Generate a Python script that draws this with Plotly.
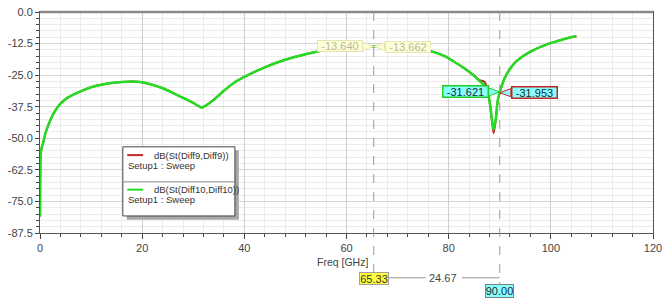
import plotly.graph_objects as go

# ---------------- data ----------------
freq_ghz = [0, 0.02, 0.05, 0.1, 0.3, 0.6, 1.0, 1.5, 2.2, 3.0, 4.0, 5.5, 7.5, 10, 12, 14, 16, 18, 20,
            22, 24, 26, 28, 30, 31, 31.7, 32.5, 34, 36, 38, 40, 42, 44, 46, 48, 50, 52, 54, 56, 58,
            60, 62, 64, 65.33, 67, 69, 71, 73, 75, 77, 79, 81, 83, 85, 86, 87, 87.6, 88.1, 88.5,
            88.8, 89.2, 89.6, 90, 90.5, 91, 92, 93, 94, 95, 96, 97, 98, 99, 100, 101, 102, 103,
            104, 105]

s_diff10 = [-81, -72, -64, -58, -54, -52, -48.5, -45.5, -42, -39, -36.3, -33.8, -31.8, -29.8, -28.8,
            -28.1, -27.7, -27.5, -27.8, -28.8, -30.2, -32, -34, -36, -37.2, -37.8, -37, -34.8,
            -31.2, -28, -25.7, -23.7, -21.9, -20.3, -18.9, -17.7, -16.7, -15.8, -15, -14.4, -14,
            -13.75, -13.65, -13.640, -13.7, -13.9, -14.2, -14.6, -15, -15.8, -17.3, -19.6, -22.2,
            -25.3, -27.3, -29.0, -31, -36.5, -43, -46.5, -42.7, -35, -31.621, -28.5, -26, -22.5,
            -20, -18.3, -16.9, -15.7, -14.7, -13.8, -13, -12.3, -11.7, -11.1, -10.5, -10, -9.6]

s_diff9 = [-81, -72, -64, -58, -54, -52, -48.5, -45.5, -42, -39, -36.3, -33.8, -31.8, -29.8, -28.8,
           -28.1, -27.7, -27.5, -27.8, -28.8, -30.2, -32, -34, -36, -37.2, -37.8, -37, -34.8,
           -31.2, -28, -25.7, -23.7, -21.9, -20.3, -18.9, -17.7, -16.7, -15.8, -15, -14.4, -14,
           -13.75, -13.66, -13.662, -13.7, -13.9, -14.2, -14.6, -15, -15.8, -17.3, -19.6, -22.2,
           -25.2, -27.0, -27.6, -30.5, -36.8, -43.5, -48, -43, -35.3, -31.953, -28.7, -26.1, -22.6,
           -20, -18.3, -16.9, -15.7, -14.7, -13.8, -13, -12.3, -11.7, -11.1, -10.5, -10, -9.6]

marker_freqs = [65.33, 90.00]
marker_diff10 = [-13.640, -31.621]
marker_diff9 = [-13.662, -31.953]
marker_labels = ["65.33", "90.00"]
delta_label = "24.67"

x_tick_vals = [0, 20, 40, 60, 80, 100, 120]
y_tick_labels = ["0.0", "-12.5", "-25.0", "-37.5", "-50.0", "-62.5", "-75.0", "-87.5"]
y_tick_vals = [float(t) for t in y_tick_labels]

trace_names = ["dB(St(Diff9,Diff9))", "dB(St(Diff10,Diff10))"]
setup_name = "Setup1 : Sweep"

RED = "#c0282a"
GREEN = "#22dd22"
FONT = "Liberation Sans, Arial, sans-serif"

# ---------------- geometry helpers (layout only) ----------------
W, H = 668, 301
ML, MR, MT, MB = 40, 10, 6, 68
PW, PH = W - ML - MR, H - MT - MB


def px(xp):
    return (xp - ML) / PW


def py(yp):
    return (H - MB - yp) / PH


fig = go.Figure()
fig.add_trace(go.Scatter(x=freq_ghz, y=s_diff9, mode="lines", name=trace_names[0],
                         line=dict(color=RED, width=2, shape="spline", smoothing=0.8)))
fig.add_trace(go.Scatter(x=freq_ghz, y=s_diff10, mode="lines", name=trace_names[1],
                         line=dict(color=GREEN, width=2.5, shape="spline", smoothing=0.8)))

shapes = []
annotations = []

# top frame (thicker gray)
shapes.append(dict(type="line", xref="paper", yref="paper", x0=0, x1=1, y0=1, y1=1,
                   line=dict(color="#8a8a8a", width=2.5)))

# marker dashed lines (extend below the plot to the frequency boxes)
shapes.append(dict(type="line", xref="x", yref="paper", x0=marker_freqs[0], x1=marker_freqs[0],
                   y0=1, y1=py(274), line=dict(color="#9a9a9a", width=1, dash="dash")))
shapes.append(dict(type="line", xref="x", yref="paper", x0=marker_freqs[1], x1=marker_freqs[1],
                   y0=1, y1=py(286), line=dict(color="#9a9a9a", width=1, dash="dash")))

# delta connector lines
shapes.append(dict(type="line", xref="x", yref="paper", xsizemode="pixel", xanchor=marker_freqs[0],
                   x0=14, x1=52, y0=py(279), y1=py(279), line=dict(color="#9a9a9a", width=1)))
shapes.append(dict(type="line", xref="x", yref="paper", xsizemode="pixel", xanchor=marker_freqs[1],
                   x0=-38, x1=0, y0=py(279), y1=py(279), line=dict(color="#9a9a9a", width=1)))


def wedge(xv, yv, side, fill, border):
    d = 11 * side
    shapes.append(dict(type="path", xref="x", yref="y", xsizemode="pixel", ysizemode="pixel",
                       xanchor=xv, yanchor=yv,
                       path=f"M 0 0 L {d} 4 L {d} -4 Z",
                       fillcolor=fill, line=dict(color=border, width=1)))


def value_box(xv, yv, text, side, fill, border, fcolor, bw):
    annotations.append(dict(x=xv, y=yv, xref="x", yref="y", text=text, showarrow=False,
                            xanchor="right" if side < 0 else "left", yanchor="middle",
                            xshift=11 * side, width=44, height=10,
                            bgcolor=fill, bordercolor=border, borderwidth=bw, borderpad=0,
                            font=dict(family=FONT, size=11, color=fcolor)))


# faded marker at 65.33
wedge(marker_freqs[0], marker_diff10[0], -1, "#ffffd6", "#e6e6b4")
wedge(marker_freqs[0], marker_diff9[0], 1, "#ffffd6", "#e6e6b4")
value_box(marker_freqs[0], marker_diff10[0], f"{marker_diff10[0]:.3f}", -1, "#ffffd6", "#e6e6b4",
          "#b8b8a0", 1)
value_box(marker_freqs[0], marker_diff9[0], f"{marker_diff9[0]:.3f}", 1, "#ffffd6", "#e6e6b4",
          "#b8b8a0", 1)

# active marker at 90
wedge(marker_freqs[1], marker_diff10[1], -1, "#86ffff", "#22cc22")
wedge(marker_freqs[1], marker_diff9[1], 1, "#86ffff", "#c02828")
value_box(marker_freqs[1], marker_diff10[1], f"{marker_diff10[1]:.3f}", -1, "#86ffff", "#22cc22",
          "#1a2a33", 1.5)
value_box(marker_freqs[1], marker_diff9[1], f"{marker_diff9[1]:.3f}", 1, "#86ffff", "#c02828",
          "#1a2a33", 1.5)

# frequency boxes below axis
annotations.append(dict(x=marker_freqs[0], y=py(280), xref="x", yref="paper", text=marker_labels[0],
                        showarrow=False, xanchor="center", yanchor="middle", xshift=0,
                        width=28, height=11, bgcolor="#ffff3c", bordercolor="#a0a0a0",
                        borderwidth=1, borderpad=0, font=dict(family=FONT, size=11, color="#333")))
annotations.append(dict(x=marker_freqs[1], y=py(292.5), xref="x", yref="paper", text=marker_labels[1],
                        showarrow=False, xanchor="center", yanchor="middle",
                        width=27, height=12, bgcolor="#86ffff", bordercolor="#808080",
                        borderwidth=1, borderpad=0, font=dict(family=FONT, size=11, color="#1a2a33")))
annotations.append(dict(x=(marker_freqs[0] + marker_freqs[1]) / 2, y=py(279.5), xref="x", yref="paper",
                        text=delta_label, showarrow=False, xanchor="center", yanchor="middle", xshift=6,
                        font=dict(family=FONT, size=11, color="#444")))

# axis title
annotations.append(dict(x=px(373), y=py(263), xref="paper", yref="paper", text="Freq [GHz]",
                        showarrow=False, xanchor="right", yanchor="middle",
                        font=dict(family=FONT, size=10.5, color="#444")))

# legend box (manual, to match the boxed look)
shapes.append(dict(type="rect", xref="paper", yref="paper", x0=px(127.5), x1=px(240.5),
                   y0=py(219.5), y1=py(148), fillcolor="#a8a8a8", line=dict(width=0)))
shapes.append(dict(type="rect", xref="paper", yref="paper", x0=px(123.5), x1=px(236.5),
                   y0=py(215.5), y1=py(144.5), fillcolor="white", line=dict(color="#444", width=1)))
shapes.append(dict(type="line", xref="paper", yref="paper", x0=px(123.5), x1=px(236.5),
                   y0=py(180.5), y1=py(180.5), line=dict(color="#888", width=1)))
for i, (yc, col) in enumerate([(153, RED), (188.5, GREEN)]):
    shapes.append(dict(type="line", xref="paper", yref="paper", x0=px(128), x1=px(144),
                       y0=py(yc), y1=py(yc), line=dict(color=col, width=2)))
    annotations.append(dict(x=px(153), y=py(yc), xref="paper", yref="paper", text=trace_names[i],
                            showarrow=False, xanchor="left", yanchor="middle",
                            font=dict(family=FONT, size=9.5, color="#333")))
    annotations.append(dict(x=px(127), y=py(yc + 10.5), xref="paper", yref="paper", text=setup_name,
                            showarrow=False, xanchor="left", yanchor="middle",
                            font=dict(family=FONT, size=9.5, color="#333")))

fig.update_layout(
    width=W, height=H,
    margin=dict(l=ML, r=MR, t=MT, b=MB, pad=0),
    paper_bgcolor="white", plot_bgcolor="white",
    showlegend=False,
    font=dict(family=FONT, size=11, color="#333"),
    shapes=shapes, annotations=annotations,
    xaxis=dict(range=[0, 120], tickmode="array", tickvals=x_tick_vals,
               showgrid=True, gridcolor="#cfcfcf", gridwidth=1,
               ticks="outside", ticklen=5, tickcolor="#444",
               showline=True, linecolor="#555", linewidth=1, mirror=True,
               zeroline=False, tickfont=dict(size=11, color="#444"),
               minor=dict(dtick=4, tick0=0, showgrid=True, gridcolor="#ebebeb",
                          ticks="outside", ticklen=3, tickcolor="#444")),
    yaxis=dict(range=[-87.5, 0], tickmode="array", tickvals=y_tick_vals, ticktext=y_tick_labels,
               showgrid=True, gridcolor="#d4d4d4", gridwidth=1,
               ticks="outside", ticklen=4, tickcolor="#444",
               showline=True, linecolor="#555", linewidth=1, mirror=True,
               zeroline=False, tickfont=dict(size=11, color="#444"),
               minor=dict(dtick=2.5, tick0=0, showgrid=True, gridcolor="#ececec",
                          ticks="outside", ticklen=3, tickcolor="#444")),
)

fig.write_html("out.html")
